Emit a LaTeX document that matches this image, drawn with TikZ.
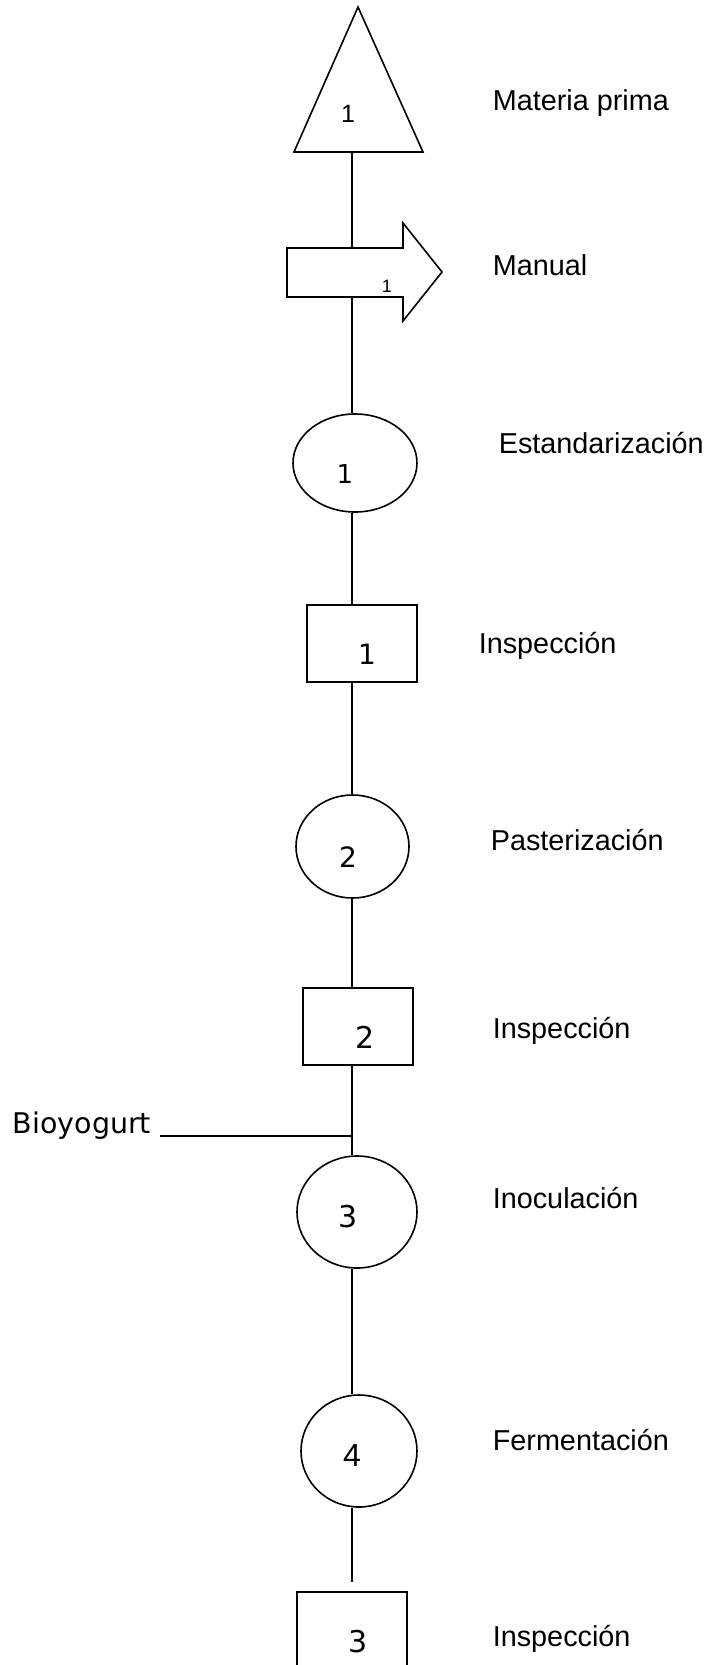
\documentclass[tikz,border=0pt]{standalone}
\usepackage{fontspec}
\setmainfont{Liberation Sans}
\newfontfamily\dejavu{DejaVu Sans}
\usetikzlibrary{shapes.geometric}
\begin{document}
\begin{tikzpicture}[x=1pt,y=-1pt, line width=1.6pt,
  lab/.style={anchor=base west, inner sep=0, font=\fontsize{28.8}{34}\selectfont},
  num/.style={anchor=base, inner sep=0, font=\dejavu\fontsize{28}{32}\selectfont},
  anum/.style={anchor=base, inner sep=0, font=\fontsize{#1}{#1}\selectfont},
  oval/.style={draw, ellipse, inner sep=0},
  boxnode/.style={draw, rectangle, inner sep=0}]
\useasboundingbox (0,0) rectangle (712,1665);
\coordinate (L) at (352,0);
% triangle (storage)
\draw (358,7) -- (423,152) -- (294,152) -- cycle;
\coordinate (triB) at (352,152);
\node[anum=25] (n0) at (348,122) {1};
% arrow (transport)
\draw (287,248) -- (403,248) -- (403,223) -- (442,272) -- (403,321) -- (403,297) -- (287,297) -- cycle;
\coordinate (arT) at (352,248);
\coordinate (arB) at (352,297);
\node[anum=18] (na) at (387,292) {1};
% operations and inspections
\node[oval, minimum width=124pt, minimum height=98pt] (e1) at (355,463) {};
\node[num, font=\dejavu\fontsize{26}{30}\selectfont] (n1) at (345,483) {1};
\node[boxnode, minimum width=110pt, minimum height=77pt] (b1) at (362,643.5) {};
\node[num] (nb1) at (367,664) {1};
\node[oval, minimum width=113pt, minimum height=103pt] (c2) at (352.5,846.5) {};
\node[num] (n2) at (348,867) {2};
\node[boxnode, minimum width=110pt, minimum height=77pt] (b2) at (358,1026.5) {};
\node[num, font=\dejavu\fontsize{30}{34}\selectfont] (nb2) at (365,1048) {2};
\node[oval, minimum width=120pt, minimum height=112pt] (c3) at (357,1212) {};
\node[num, font=\dejavu\fontsize{30}{34}\selectfont] (n3) at (348,1227) {3};
\node[oval, minimum width=116pt, minimum height=112pt] (c4) at (359,1451) {};
\node[anum=32] (n4) at (352,1466) {4};
\begin{scope}
\clip (0,0) rectangle (712,1665);
\node[boxnode, minimum width=110pt, minimum height=100pt] (b3) at (352,1642) {};
\end{scope}
\node[num, font=\dejavu\fontsize{30}{34}\selectfont] (nb3) at (358,1652) {3};
\coordinate (endL) at (352,1582);
% vertical connectors
\draw (triB) -- (arT);
\draw (arB) -- (e1.north -| L);
\draw (e1.south -| L) -- (b1.north -| L);
\draw (b1.south -| L) -- (c2.north -| L);
\draw (c2.south -| L) -- (b2.north -| L);
\draw (b2.south -| L) -- (c3.north -| L);
\draw (c3.south -| L) -- (c4.north -| L);
\draw (c4.south -| L) -- (endL);
% Bioyogurt input
\node[anchor=base west, inner sep=0, font=\dejavu\fontsize{28.5}{32}\selectfont] (bio) at (12,1133) {Bioyogurt};
\coordinate (bioE) at (160,1136);
\draw (bioE) -- (bioE -| L);
% labels
\node[lab] (l0) at (492,110) {Materia prima};
\node[lab] (la) at (492,275) {Manual};
\node[lab] (l1) at (498,453) {Estandarización};
\node[lab] (l2) at (478,653) {Inspección};
\node[lab] (l3) at (490,850) {Pasterización};
\node[lab] (l4) at (492,1038) {Inspección};
\node[lab] (l5) at (492,1208) {Inoculación};
\node[lab] (l6) at (492,1450) {Fermentación};
\node[lab] (l7) at (492,1646) {Inspección};
\end{tikzpicture}
\end{document}
